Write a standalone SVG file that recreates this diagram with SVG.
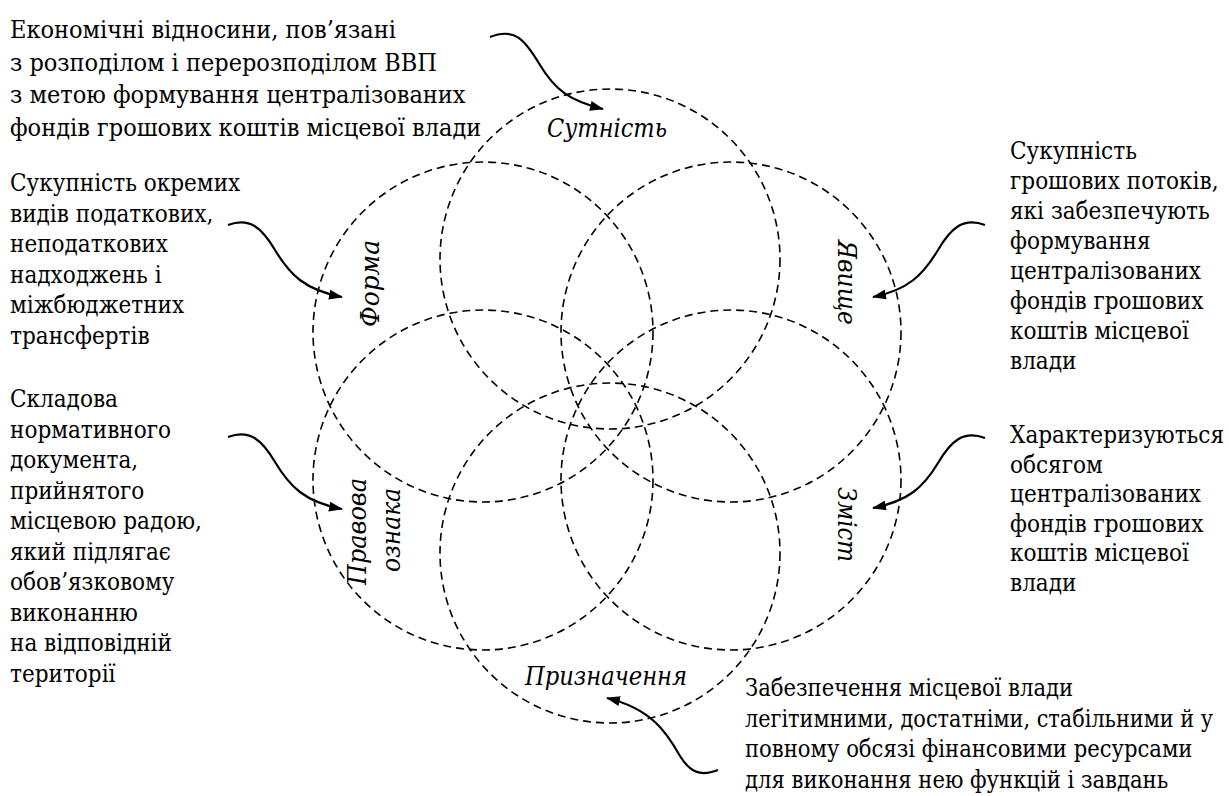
<svg xmlns="http://www.w3.org/2000/svg" width="1229" height="796" viewBox="0 0 1229 796">
<defs>
<style>
.c{fill:none;stroke:#000;stroke-width:1.6;stroke-dasharray:8 5}
.a{fill:none;stroke:#000;stroke-width:2.2;marker-end:url(#ah)}
.t{font-family:"DejaVu Serif Condensed","DejaVu Serif",serif;font-stretch:condensed;font-size:24px;fill:#000}
.tb{font-size:25px}
.ts{font-size:23.5px}
.l{font-family:"DejaVu Serif Condensed","DejaVu Serif",serif;font-stretch:condensed;font-size:26px;font-style:italic;fill:#000}
</style>
<marker id="ah" markerWidth="14" markerHeight="10" refX="13" refY="5" orient="auto" markerUnits="userSpaceOnUse">
<path d="M0,0 L14,5 L0,10 Z" fill="#000"/>
</marker>
</defs>
<rect width="1229" height="796" fill="#fff"/>
<g id="circles">
<circle id="c-top" class="c" cx="610" cy="259" r="170"/>
<circle id="c-ul" class="c" cx="483" cy="332" r="170"/>
<circle id="c-ur" class="c" cx="731" cy="332" r="170"/>
<circle id="c-ll" class="c" cx="483" cy="480" r="170"/>
<circle id="c-lr" class="c" cx="731" cy="480" r="170"/>
<circle id="c-bot" class="c" cx="610" cy="553" r="170"/>
</g>
<g id="labels">
<g id="n-sutnist"><text class="l" x="547" y="137" textLength="120" lengthAdjust="spacingAndGlyphs">Сутність</text></g>
<g id="n-forma"><text class="l" transform="translate(379,327) rotate(-90)" textLength="87" lengthAdjust="spacingAndGlyphs">Форма</text></g>
<g id="n-yavyshche"><text class="l" transform="translate(838,240) rotate(90)" textLength="85" lengthAdjust="spacingAndGlyphs">Явище</text></g>
<g id="n-pravova"><text class="l" transform="translate(366,585) rotate(-90)" textLength="107" lengthAdjust="spacingAndGlyphs">Правова</text><text class="l" transform="translate(400,572) rotate(-90)" textLength="84" lengthAdjust="spacingAndGlyphs">ознака</text></g>
<g id="n-zmist"><text class="l" transform="translate(838,487) rotate(90)" textLength="75" lengthAdjust="spacingAndGlyphs">Зміст</text></g>
<g id="n-pryznachennia"><text class="l" x="525" y="685" textLength="162" lengthAdjust="spacingAndGlyphs">Призначення</text></g>
</g>
<g id="descriptions">
<g id="d-sutnist"><text class="t tb"><tspan x="10" y="38">Економічні відносини, пов’язані</tspan><tspan x="10" y="70.5">з розподілом і перерозподілом ВВП</tspan><tspan x="10" y="103">з метою формування централізованих</tspan><tspan x="10" y="135.5">фондів грошових коштів місцевої влади</tspan></text></g>
<g id="d-forma"><text class="t"><tspan x="10" y="191">Сукупність окремих</tspan><tspan x="10" y="221.5">видів податкових,</tspan><tspan x="10" y="252">неподаткових</tspan><tspan x="10" y="282.5">надходжень і</tspan><tspan x="10" y="313">міжбюджетних</tspan><tspan x="10" y="343.5">трансфертів</tspan></text></g>
<g id="d-pravova"><text class="t"><tspan x="10" y="407">Складова</tspan><tspan x="10" y="437.5">нормативного</tspan><tspan x="10" y="468">документа,</tspan><tspan x="10" y="498.5">прийнятого</tspan><tspan x="10" y="529">місцевою радою,</tspan><tspan x="10" y="559.5">який підлягає</tspan><tspan x="10" y="590">обов’язковому</tspan><tspan x="10" y="620.5">виконанню</tspan><tspan x="10" y="651">на відповідній</tspan><tspan x="10" y="681.5">території</tspan></text></g>
<g id="d-yavyshche"><text class="t"><tspan x="1010" y="159">Сукупність</tspan><tspan x="1010" y="189">грошових потоків,</tspan><tspan x="1010" y="219">які забезпечують</tspan><tspan x="1010" y="249">формування</tspan><tspan x="1010" y="279">централізованих</tspan><tspan x="1010" y="309">фондів грошових</tspan><tspan x="1010" y="339">коштів місцевої</tspan><tspan x="1010" y="369">влади</tspan></text></g>
<g id="d-zmist"><text class="t"><tspan x="1010" y="443">Характеризуються</tspan><tspan x="1010" y="472.5">обсягом</tspan><tspan x="1010" y="502">централізованих</tspan><tspan x="1010" y="531.5">фондів грошових</tspan><tspan x="1010" y="561">коштів місцевої</tspan><tspan x="1010" y="590.5">влади</tspan></text></g>
<g id="d-pryznachennia"><text class="t ts"><tspan x="745" y="696">Забезпечення місцевої влади</tspan></text><text class="t ts" x="745" y="726.5" textLength="468" lengthAdjust="spacingAndGlyphs">легітимними, достатніми, стабільними й у</text><text class="t ts"><tspan x="745" y="757">повному обсязі фінансовими ресурсами</tspan><tspan x="745" y="787.5">для виконання нею функцій і завдань</tspan></text></g>
</g>
<g id="connectors">
<path class="a" d="M490,37 C515,27 525,40 540,65 C555,90 570,101 603,109"/>
<path class="a" d="M228,225 C250,217 262,228 275,250 C290,275 305,290 342,297"/>
<path class="a" d="M228,437 C250,429 262,440 275,462 C290,487 305,502 342,509"/>
<path class="a" d="M985,225 C963,217 951,228 938,250 C923,275 908,290 873,297"/>
<path class="a" d="M985,438 C963,430 951,441 938,463 C923,488 908,501 873,508"/>
<path class="a" d="M718,770 C700,777 690,772 680,756 C667,733 652,709 607,698"/>
</g>
</svg>
